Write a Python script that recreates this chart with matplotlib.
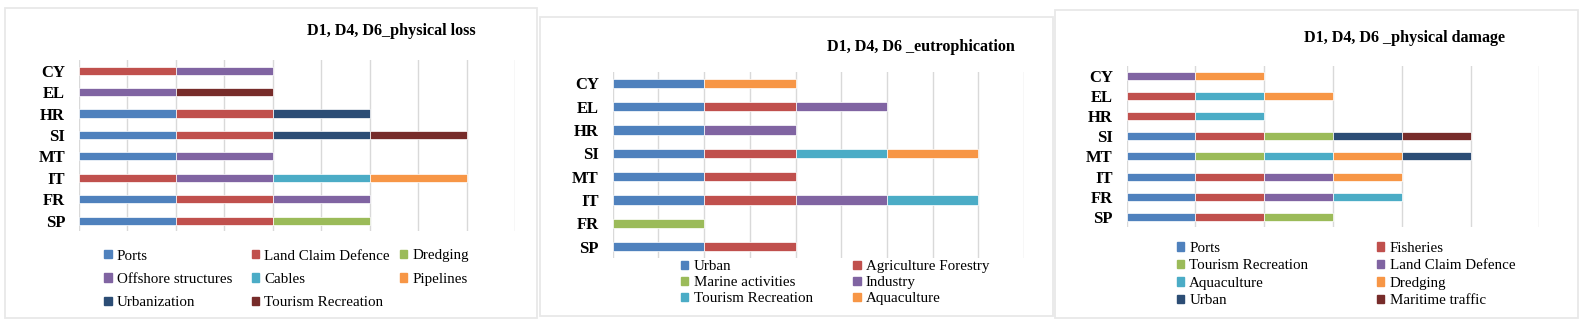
import numpy as np
import matplotlib
matplotlib.use('Agg')
import matplotlib.pyplot as plt
from matplotlib.patches import Patch, Rectangle

plt.rcParams['font.family'] = ['Liberation Serif', 'DejaVu Serif']

W, H = 1586, 325

countries = ['SP', 'FR', 'IT', 'MT', 'SI', 'HR', 'EL', 'CY']

# D1, D4, D6 physical loss
loss_labels = ['Ports', 'Land Claim Defence', 'Dredging', 'Offshore structures',
               'Cables', 'Pipelines', 'Urbanization', 'Tourism Recreation']
loss_ports = [1, 1, 0, 1, 1, 1, 0, 0]
loss_landclaim = [1, 1, 1, 0, 1, 1, 0, 1]
loss_dredging = [1, 0, 0, 0, 0, 0, 0, 0]
loss_offshore = [0, 1, 1, 1, 0, 0, 1, 1]
loss_cables = [0, 0, 1, 0, 0, 0, 0, 0]
loss_pipelines = [0, 0, 1, 0, 0, 0, 0, 0]
loss_urban = [0, 0, 0, 0, 1, 1, 0, 0]
loss_tourism = [0, 0, 0, 0, 1, 0, 1, 0]

# D1, D4, D6 eutrophication
eu_labels = ['Urban', 'Agriculture Forestry', 'Marine activities', 'Industry',
             'Tourism Recreation', 'Aquaculture']
eu_urban = [1, 0, 1, 1, 1, 1, 1, 1]
eu_agri = [1, 0, 1, 1, 1, 0, 1, 0]
eu_marine = [0, 1, 0, 0, 0, 0, 0, 0]
eu_industry = [0, 0, 1, 0, 0, 1, 1, 0]
eu_tourism = [0, 0, 1, 0, 1, 0, 0, 0]
eu_aqua = [0, 0, 0, 0, 1, 0, 0, 1]

# D1, D4, D6 physical damage
dm_labels = ['Ports', 'Fisheries', 'Tourism Recreation', 'Land Claim Defence',
             'Aquaculture', 'Dredging', 'Urban', 'Maritime traffic']
dm_ports = [1, 1, 1, 1, 1, 0, 0, 0]
dm_fish = [1, 1, 1, 0, 1, 1, 1, 0]
dm_tourism = [1, 0, 0, 1, 1, 0, 0, 0]
dm_landclaim = [0, 1, 1, 0, 0, 0, 0, 1]
dm_aqua = [0, 1, 0, 1, 0, 1, 1, 0]
dm_dredging = [0, 0, 1, 1, 0, 0, 1, 1]
dm_urban = [0, 0, 0, 1, 1, 0, 0, 0]
dm_maritime = [0, 0, 0, 0, 1, 0, 0, 0]

office = ['#4F81BD', '#C0504D', '#9BBB59', '#8064A2',
          '#4BACC6', '#F79646', '#2C4D75', '#772C2A']


def px_axes(fig, x0, x1, y0, y1):
    return fig.add_axes([x0 / W, 1 - y1 / H, (x1 - x0) / W, (y1 - y0) / H])


def stacked(ax, series, colors, xmax, step, bh):
    y = np.arange(len(countries))
    left = np.zeros(len(countries))
    for vals, c in zip(series, colors):
        vals = np.array(vals, dtype=float)
        m = vals > 0
        ax.barh(y[m], vals[m], left=left[m], height=bh, color=c,
                edgecolor='white', linewidth=0.5, zorder=3)
        left += vals
    ax.set_xlim(0, xmax)
    ax.set_ylim(-0.5, len(countries) - 0.5)
    ax.set_xticks(np.arange(0, xmax + 0.01, step))
    ax.set_xticklabels([])
    ax.set_yticks(y)
    ax.set_yticklabels(countries, fontweight='bold', fontsize=12)
    ax.tick_params(length=0, pad=10)
    ax.grid(axis='x', color='#d9d9d9', lw=1, zorder=0)
    for s in ax.spines.values():
        s.set_visible(False)


def legend_items(fig, labels, colors, colx, rowy):
    ncol = len(colx)
    for i, (lab, c) in enumerate(zip(labels, colors)):
        x, y = colx[i % ncol], rowy[i // ncol]
        fig.legend(handles=[Patch(color=c)], labels=[lab], loc='center left',
                   bbox_to_anchor=(x / W, 1 - y / H), frameon=False,
                   borderpad=0, handlelength=0.5, handleheight=0.5,
                   handletextpad=0.35, fontsize=10.8)


fig = plt.figure(figsize=(W / 100, H / 100), dpi=100)

# panel frames
for (x0, y0, x1, y1) in [(5, 8, 537, 318), (540, 17, 1053, 316), (1055, 10, 1578, 318)]:
    fig.patches.append(Rectangle((x0 / W, 1 - y1 / H), (x1 - x0) / W, (y1 - y0) / H,
                                 transform=fig.transFigure, fill=False,
                                 edgecolor='#e8e8e8', lw=1.3))

ax1 = px_axes(fig, 79, 515, 60, 231.4)
stacked(ax1, [loss_ports, loss_landclaim, loss_dredging, loss_offshore,
              loss_cables, loss_pipelines, loss_urban, loss_tourism],
        office, 4.5, 0.5, 0.38)
fig.text(391 / W, 1 - 31 / H, 'D1, D4, D6_physical loss', ha='center', va='center',
         fontweight='bold', fontsize=11.6)
legend_items(fig, loss_labels, office, [96.7, 244, 392], [256, 279.3, 302.7])

ax2 = px_axes(fig, 612.7, 1024, 71.7, 258.3)
stacked(ax2, [eu_urban, eu_agri, eu_marine, eu_industry, eu_tourism, eu_aqua],
        office[:6], 4.5, 0.5, 0.4)
fig.text(921 / W, 1 - 47 / H, 'D1, D4, D6 _eutrophication', ha='center', va='center',
         fontweight='bold', fontsize=11.6)
legend_items(fig, eu_labels, office[:6], [673.3, 845.7], [266.7, 282.7, 298.7])

ax3 = px_axes(fig, 1126.7, 1539.3, 66, 226.8)
stacked(ax3, [dm_ports, dm_fish, dm_tourism, dm_landclaim, dm_aqua,
              dm_dredging, dm_urban, dm_maritime],
        office, 6, 1, 0.4)
fig.text(1405 / W, 1 - 38 / H, 'D1, D4, D6 _physical damage', ha='center', va='center',
         fontweight='bold', fontsize=11.6)
legend_items(fig, dm_labels, office, [1169, 1369.3], [248.3, 265.7, 283.3, 300.7])

fig.savefig('out.png', dpi=100)
